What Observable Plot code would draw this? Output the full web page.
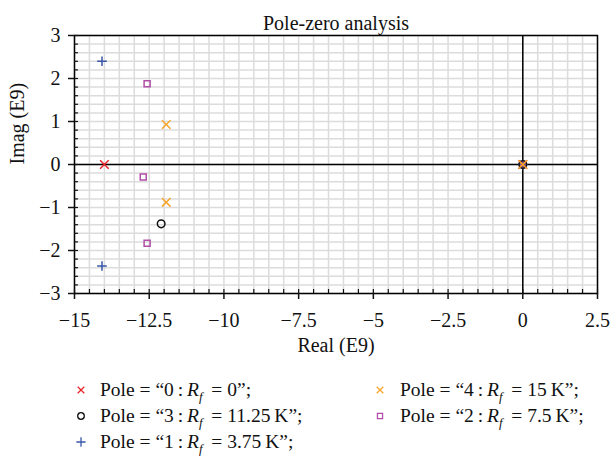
<!DOCTYPE html>
<html><head><meta charset="utf-8">
<script src="https://cdn.jsdelivr.net/npm/d3@7"></script>
<script src="https://cdn.jsdelivr.net/npm/@observablehq/plot@0.6"></script>
<style>
body{margin:0;background:#fff;font-family:"Liberation Serif",serif;}
#wrap{position:relative;width:612px;height:457px;overflow:hidden;}
.leg{position:absolute;font-size:19.5px;line-height:20px;white-space:nowrap;color:#111;}
.leg svg{position:absolute;left:0;top:4px;}
.leg span{position:absolute;top:0;}
.leg sub{font-size:13px;vertical-align:-5px;line-height:0;}
</style></head><body><div id="wrap"></div>
<script>
// ---- data ----
const xTicks = [-15, -12.5, -10, -7.5, -5, -2.5, 0, 2.5];
const yTicks = [-3, -2, -1, 0, 1, 2, 3];
const xMinor = d3.range(-15, 2.501, 0.5);
const yMinor = d3.range(-3, 3.001, 0.2);

const pole0Real = [-14.0, 0];
const pole0Imag = [0, 0];
const pole1Real = [-14.08, -14.08, 0];
const pole1Imag = [2.40, -2.36, 0];
const pole2Real = [-12.57, -12.70, -12.57, 0];
const pole2Imag = [1.88, -0.29, -1.83, 0];
const pole3Real = [-12.10, 0];
const pole3Imag = [-1.38, 0];
const pole4Real = [-11.93, -11.93, 0];
const pole4Imag = [0.93, -0.88, 0];

const seriesNames = ["0", "1", "2", "3", "4"];
const seriesValues = ["0", "3.75&thinsp;K", "7.5&thinsp;K", "11.25&thinsp;K", "15&thinsp;K"];
const seriesLabels = seriesNames.map((n, i) =>
  `Pole&nbsp;=&nbsp;“${n}&thinsp;:&thinsp;<i>R</i><sub><i>f</i></sub>&thinsp;&nbsp;=&nbsp;${seriesValues[i]}”;`);
const seriesSymbols = ["times", "plus", "square", "circle", "times"];
const seriesColors = ["#e8262b", "#3a56a8", "#b04ea6", "#111111", "#f5a52a"];
const seriesR = [4, 3.2, 3.4, 3.8, 4];

const reals = [pole0Real, pole1Real, pole2Real, pole3Real, pole4Real];
const imags = [pole0Imag, pole1Imag, pole2Imag, pole3Imag, pole4Imag];

// draw order (last on top)
const drawOrder = [1, 2, 0, 3, 4];
const fmt = d => d3.format("")(d).replace("-", "\u2212");

const marks = [
  Plot.gridX(xMinor, {stroke: "#dcdcdc", strokeOpacity: 1, strokeWidth: 1.5}),
  Plot.gridY(yMinor, {stroke: "#dcdcdc", strokeOpacity: 1, strokeWidth: 1.5}),
  Plot.ruleX([0], {stroke: "black", strokeWidth: 1.5}),
  Plot.ruleY([0], {stroke: "black", strokeWidth: 1.5}),
  Plot.frame({stroke: "black", strokeWidth: 1.5}),
  Plot.axisX({ticks: xTicks, tickSize: 6, tickPadding: 13, label: null, fontSize: 20,
    tickFormat: fmt, strokeWidth: 1.5}),
  Plot.axisX({ticks: xMinor, tickSize: -4, text: null, label: null, strokeWidth: 1.2}),
  Plot.axisY({ticks: yTicks, tickSize: 6, tickPadding: 8, label: null, fontSize: 20,
    tickFormat: fmt, strokeWidth: 1.5}),
  Plot.axisY({ticks: yMinor, tickSize: -4, text: null, label: null, strokeWidth: 1.2}),
  Plot.text(["Pole-zero analysis"], {frameAnchor: "top", dy: -20, fontSize: 20, fill: "#111"}),
  Plot.text(["Real (E9)"], {frameAnchor: "bottom", dy: 58, fontSize: 20, fill: "#111"}),
  Plot.text(["Imag (E9)"], {frameAnchor: "left", dx: -57, rotate: -90, fontSize: 20, fill: "#111"})
];
for (const i of drawOrder) {
  const data = reals[i].map((x, k) => ({x, y: imags[i][k]}));
  marks.push(Plot.dot(data, {x: "x", y: "y", symbol: () => seriesSymbols[i], r: seriesR[i],
    stroke: seriesColors[i], fill: "none", strokeWidth: 1.5}));
}

const chart = Plot.plot({
  width: 612, height: 362,
  marginLeft: 74, marginRight: 15, marginTop: 35, marginBottom: 69,
  x: {domain: [-15, 2.5]},
  y: {domain: [-3, 3]},
  symbol: {type: "identity"},
  style: {fontFamily: "'Liberation Serif', serif", fontSize: "20px", color: "#111", background: "white"},
  marks
});
const wrap = document.getElementById("wrap");
wrap.appendChild(chart);

// legend
const legendLayout = [
  {i: 0, mx: 81, tx: 100, cy: 390},
  {i: 3, mx: 81, tx: 100, cy: 416},
  {i: 1, mx: 81, tx: 100, cy: 442},
  {i: 4, mx: 380, tx: 400, cy: 390},
  {i: 2, mx: 380, tx: 400, cy: 416}
];
const symMap = {times: d3.symbolTimes, plus: d3.symbolPlus, square: d3.symbolSquare, circle: d3.symbolCircle};
const symSize = {times: 30, plus: 30, square: 26, circle: 34};
for (const e of legendLayout) {
  const div = document.createElement("div");
  div.className = "leg";
  div.style.left = (e.mx - 6) + "px";
  div.style.top = (e.cy - 10) + "px";
  const s = seriesSymbols[e.i];
  const p = d3.symbol(symMap[s], symSize[s])();
  div.innerHTML = `<svg width="12" height="12" viewBox="-6 -6 12 12"><path d="${p}" fill="none" stroke="${seriesColors[e.i]}" stroke-width="1.3"/></svg><span style="left:${e.tx - e.mx + 6}px">${seriesLabels[e.i]}</span>`;
  wrap.appendChild(div);
}
</script></body></html>
